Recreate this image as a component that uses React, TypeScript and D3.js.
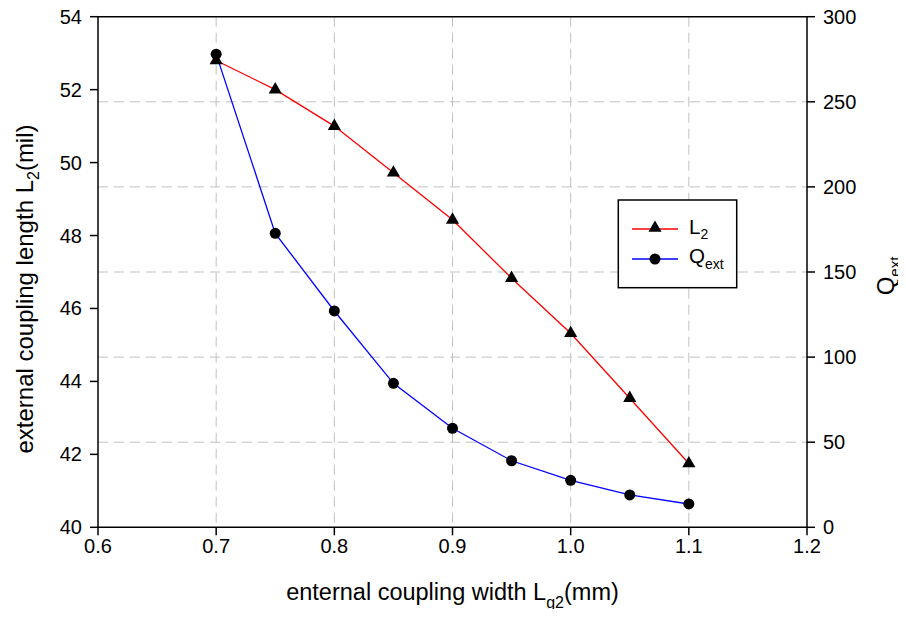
import React from "react";
import * as d3 from "d3";

const widths = [0.7, 0.75, 0.8, 0.85, 0.9, 0.95, 1.0, 1.05, 1.1];
const lengthL2 = [52.8, 52.0, 51.0, 49.72, 48.43, 46.83, 45.32, 43.54, 41.75];
const qext = [278, 172.7, 127.1, 84.6, 58.2, 39.1, 27.6, 19.0, 13.7];
const xTicks = [0.6, 0.7, 0.8, 0.9, 1.0, 1.1, 1.2];
const yLeftTicks = [40, 42, 44, 46, 48, 50, 52, 54];
const yRightTicks = [0, 50, 100, 150, 200, 250, 300];

const W = 906, H = 617;
const M = { left: 98, right: 807, top: 16.7, bottom: 527.3 };
const FONT = "'Liberation Sans', Arial, sans-serif";

export default function App() {
  const x = d3.scaleLinear().domain([0.6, 1.2]).range([M.left, M.right]);
  const yL = d3.scaleLinear().domain([40, 54]).range([M.bottom, M.top]);
  const yR = d3.scaleLinear().domain([0, 300]).range([M.bottom, M.top]);

  const lineL = d3.line<number>().x((_, i) => x(widths[i])).y((d) => yL(d));
  const lineQ = d3.line<number>().x((_, i) => x(widths[i])).y((d) => yR(d));
  const tri = d3.symbol().type(d3.symbolTriangle).size(75)();

  const grid = "#c0c0c0";
  const dash = "10,6";
  const lgX = 618.3, lgY = 200, lgW = 118.4, lgH = 87.7;

  return (
    <div style={{ margin: -8 }}>
      <svg width={W} height={H} style={{ display: "block", background: "#fff" }} fontFamily={FONT}>
        {/* grid */}
        {xTicks.filter((t) => t > 0.6 && t < 1.2).map((t) => (
          <line key={"gx" + t} x1={x(t)} x2={x(t)} y1={M.top} y2={M.bottom} stroke={grid} strokeWidth={1} strokeDasharray={dash} />
        ))}
        {yRightTicks.filter((t) => t > 0 && t < 300).map((t) => (
          <line key={"gy" + t} x1={M.left} x2={M.right} y1={yR(t)} y2={yR(t)} stroke={grid} strokeWidth={1} strokeDasharray={dash} />
        ))}

        {/* lines */}
        <path d={lineL(lengthL2) || ""} fill="none" stroke="#ff0000" strokeWidth={1.3} />
        <path d={lineQ(qext) || ""} fill="none" stroke="#0000ff" strokeWidth={1.3} />
        {lengthL2.map((v, i) => (
          <path key={"t" + i} d={tri || ""} transform={`translate(${x(widths[i])},${yL(v)})`} fill="#000" />
        ))}
        {qext.map((v, i) => (
          <circle key={"c" + i} cx={x(widths[i])} cy={yR(v)} r={5.5} fill="#000" />
        ))}

        {/* frame */}
        <line x1={M.left} x2={M.right} y1={M.top} y2={M.top} stroke="#000" strokeWidth={1.5} />
        <line x1={M.left} x2={M.right} y1={M.bottom} y2={M.bottom} stroke="#000" strokeWidth={1.5} />
        <line x1={M.left} x2={M.left} y1={M.top} y2={M.bottom} stroke="#000" strokeWidth={1.5} />
        <line x1={M.right} x2={M.right} y1={M.top} y2={M.bottom} stroke="#000" strokeWidth={1.5} />

        {/* x axis */}
        {xTicks.map((t) => (
          <g key={"xt" + t}>
            <line x1={x(t)} x2={x(t)} y1={M.bottom} y2={M.bottom + 8} stroke="#000" strokeWidth={1.5} />
            <text x={x(t)} y={553} fontSize={20} textAnchor="middle">{t.toFixed(1)}</text>
          </g>
        ))}
        {/* left axis */}
        {yLeftTicks.map((t) => (
          <g key={"yl" + t}>
            <line x1={M.left - 8} x2={M.left} y1={yL(t)} y2={yL(t)} stroke="#000" strokeWidth={1.5} />
            <text x={82} y={yL(t) + 7} fontSize={20} textAnchor="end">{t}</text>
          </g>
        ))}
        {/* right axis */}
        {yRightTicks.map((t) => (
          <g key={"yr" + t}>
            <line x1={M.right} x2={M.right + 8} y1={yR(t)} y2={yR(t)} stroke="#000" strokeWidth={1.5} />
            <text x={823} y={yR(t) + 7} fontSize={20} textAnchor="start">{t}</text>
          </g>
        ))}

        {/* axis titles */}
        <text x={452.5} y={600} fontSize={23.5} textAnchor="middle">
          enternal coupling width L<tspan fontSize={16} dy={8}>g2</tspan><tspan dy={-8}>(mm)</tspan>
        </text>
        <text transform={`translate(33,289) rotate(-90)`} fontSize={24} textAnchor="middle">
          external coupling length L<tspan fontSize={16} dy={6}>2</tspan><tspan dy={-6}>(mil)</tspan>
        </text>
        <text transform={`translate(894,276) rotate(-90)`} fontSize={24} textAnchor="middle">
          Q<tspan fontSize={15} dy={6}>ext</tspan>
        </text>

        {/* legend */}
        <rect x={lgX} y={lgY} width={lgW} height={lgH} fill="#fff" stroke="#000" strokeWidth={1.5} />
        <line x1={632} x2={678} y1={229} y2={229} stroke="#ff0000" strokeWidth={1.3} />
        <path d={tri || ""} transform="translate(655,228)" fill="#000" />
        <text x={689} y={233.5} fontSize={20.5}>L<tspan fontSize={14} dy={5}>2</tspan></text>
        <line x1={632} x2={678} y1={259} y2={259} stroke="#0000ff" strokeWidth={1.3} />
        <circle cx={655} cy={259} r={5.5} fill="#000" />
        <text x={689} y={263} fontSize={20.5}>Q<tspan fontSize={14} dy={6}>ext</tspan></text>
      </svg>
    </div>
  );
}
